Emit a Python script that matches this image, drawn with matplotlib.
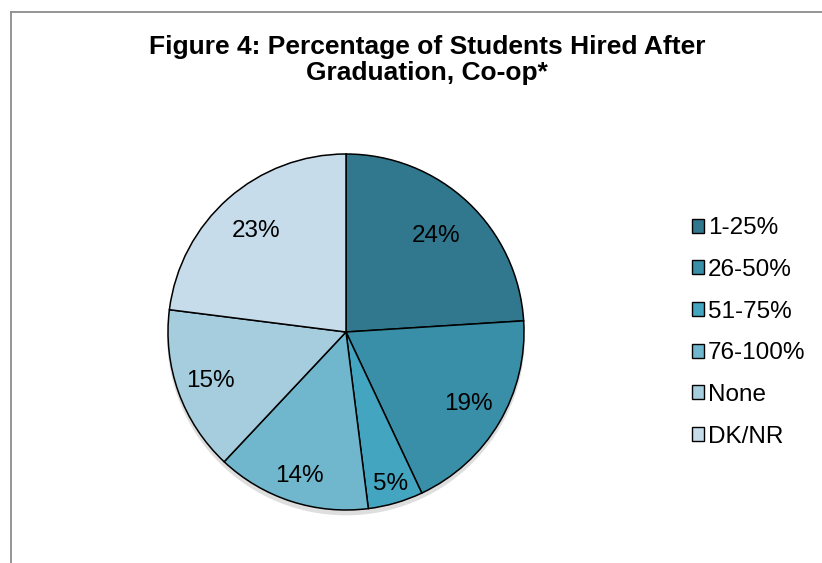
import matplotlib.pyplot as plt
from matplotlib.patches import Patch, Circle
from matplotlib.lines import Line2D

plt.rcParams['font.family'] = ['Liberation Sans', 'DejaVu Sans']

# données
categories = ["1-25%", "26-50%", "51-75%", "76-100%", "None", "DK/NR"]
values = [24, 19, 5, 14, 15, 23]
colors = ["#31788f", "#3a8fa8", "#43a5c0", "#70b7cd", "#a5cddd", "#c7dceb"]
label_dist = [0.74, 0.80, 0.89, 0.85, 0.81, 0.76]

fig = plt.figure(figsize=(8.22, 5.63), dpi=100)

# cadre gris (gauche + haut)
x0 = 10.5 / 822
y0 = 1 - 11.5 / 563
fig.add_artist(Line2D([x0, x0], [0, y0], color="#8c8c8c", lw=1.3))
fig.add_artist(Line2D([x0, 1], [y0, y0], color="#8c8c8c", lw=1.3))

cx, cy, r = 346 / 822, 1 - 332 / 563, 178
ax = fig.add_axes([cx - r / 822, cy - r / 563, 2 * r / 822, 2 * r / 563])

# petite ombre sous le camembert
ax.add_patch(Circle((0.0, -0.025), 1.005, color="#c8c8c8", alpha=0.6,
                    zorder=0, lw=0, clip_on=False))

wedges, texts, autotexts = ax.pie(
    values, colors=colors, startangle=90, counterclock=False,
    autopct="%d%%", pctdistance=0.8,
    wedgeprops={"edgecolor": "black", "linewidth": 1.1},
    textprops={"fontsize": 17.5, "color": "black"},
)
for t, d in zip(autotexts, label_dist):
    x, y = t.get_position()
    s = d / 0.8
    t.set_position((x * s, y * s))

ax.set_xlim(-1, 1)
ax.set_ylim(-1, 1)
ax.set_aspect("equal")

fig.text(427 / 822, 1 - 60 / 563,
         "Figure 4: Percentage of Students Hired After\nGraduation, Co-op*",
         ha="center", va="center", fontsize=19, fontweight="bold",
         linespacing=1.12)

handles = [Patch(facecolor=c, edgecolor="black", linewidth=1.0) for c in colors]
fig.legend(handles, categories, loc="center left",
           bbox_to_anchor=(692 / 822, 1 - 332.5 / 563),
           frameon=False, fontsize=17.5, handlelength=0.5, handleheight=0.5,
           handletextpad=0.15, labelspacing=0.81, borderpad=0, borderaxespad=0)

plt.savefig("out.png", dpi=100)
